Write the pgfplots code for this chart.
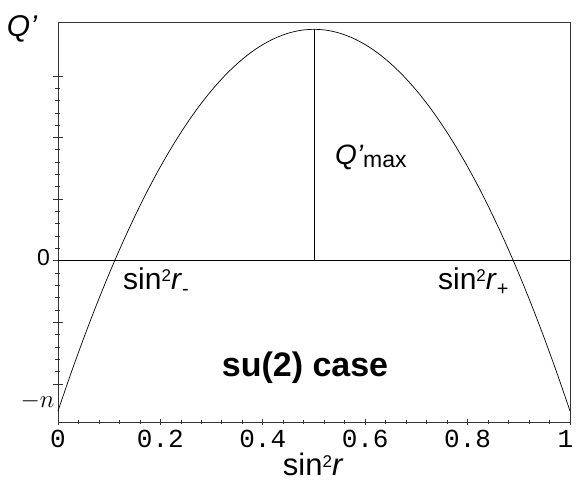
\documentclass[border=0pt]{standalone}
\usepackage{fontspec}
\setmainfont{Liberation Sans}
\setmonofont{Liberation Mono}
\usepackage{pgfplots}
\pgfplotsset{compat=1.18}
\newcommand{\sq}{\raisebox{8pt}{\fontsize{17}{17}\selectfont 2}}
\begin{document}
\begin{tikzpicture}
\useasboundingbox (-58pt,-66pt) rectangle (518pt,422pt);
\begin{axis}[
  at={(0pt,0pt)}, anchor=south west,
  scale only axis, width=512pt, height=400pt,
  xmin=0, xmax=1, ymin=-2.618, ymax=3.875,
  axis line style={line width=0.9pt, black!80},
  every tick/.style={black!80, line width=0.7pt},
  tick pos=left, tick align=center,
  major tick length=9pt, minor tick length=5pt,
  major x tick style={/pgfplots/major tick length=6pt},
  minor x tick style={/pgfplots/minor tick length=3.5pt},
  xtick={0,0.2,0.4,0.6,0.8,1},
  xticklabels={\texttt{0},\texttt{0.2},\texttt{0.4},\texttt{0.6},\texttt{0.8},\texttt{1}\rule{9pt}{0pt}},
  minor x tick num=4,
  ytick={-2,-1,0,1,2,3},
  yticklabels={,,\mbox{0},,,},
  minor y tick num=4,
  extra y ticks={-2.439},
  extra y tick labels={$-n$},
  extra y tick style={major tick length=0pt, yticklabel style={anchor=base east, font=\fontsize{25}{25}\selectfont}},
  x tick label style={font=\fontsize{26}{26}\selectfont\ttfamily},
  y tick label style={font=\fontsize{23}{23}\selectfont, yshift=3pt},
  clip=false,
]
\addplot[line width=0.7pt, black, smooth] coordinates {
(0,-2.439) (0.025,-1.835) (0.05,-1.262) (0.075,-0.720) (0.1,-0.209)
(0.125,0.271) (0.15,0.720) (0.175,1.139) (0.2,1.526) (0.225,1.882)
(0.25,2.207) (0.275,2.502) (0.3,2.765) (0.325,2.997) (0.35,3.198)
(0.375,3.369) (0.4,3.508) (0.425,3.617) (0.45,3.694) (0.475,3.741)
(0.5,3.756)
(0.525,3.741) (0.55,3.694) (0.575,3.617) (0.6,3.508) (0.625,3.369)
(0.65,3.198) (0.675,2.997) (0.7,2.765) (0.725,2.502) (0.75,2.207)
(0.775,1.882) (0.8,1.526) (0.825,1.139) (0.85,0.720) (0.875,0.271)
(0.9,-0.209) (0.925,-0.720) (0.95,-1.262) (0.975,-1.835) (1,-2.439)
};
\addplot[line width=0.7pt, black] coordinates {(0,0) (1,0)};
\addplot[line width=0.7pt, black] coordinates {(0.5,0) (0.5,3.756)};
\node[anchor=center, inner sep=0pt, font=\fontsize{30}{30}\selectfont\itshape, xshift=-36pt, yshift=-7pt] at (rel axis cs:0,1) {Q’};
\node[anchor=base west, inner sep=0pt] at (axis cs:0.541,1.561) {{\fontsize{28}{28}\selectfont\itshape Q’}\raisebox{-3pt}{\fontsize{23}{23}\selectfont max}};
\node[anchor=base west, inner sep=0pt, font=\fontsize{30}{30}\selectfont] at (axis cs:0.127,-0.4715) {sin\sq\textit{r}\raisebox{-6pt}{\fontsize{20}{20}\selectfont -}};
\node[anchor=base west, inner sep=0pt, font=\fontsize{30}{30}\selectfont] at (axis cs:0.742,-0.4715) {sin\sq\textit{r}\raisebox{-6pt}{\fontsize{20}{20}\selectfont +}};
\node[anchor=base west, inner sep=0pt, font=\fontsize{34}{34}\selectfont\bfseries] at (axis cs:0.3197,-1.881) {su(2) case};
\node[anchor=base west, inner sep=0pt, font=\fontsize{31}{31}\selectfont] at (axis cs:0.439,-3.48) {sin\sq\textit{r}};
\end{axis}
\end{tikzpicture}
\end{document}
